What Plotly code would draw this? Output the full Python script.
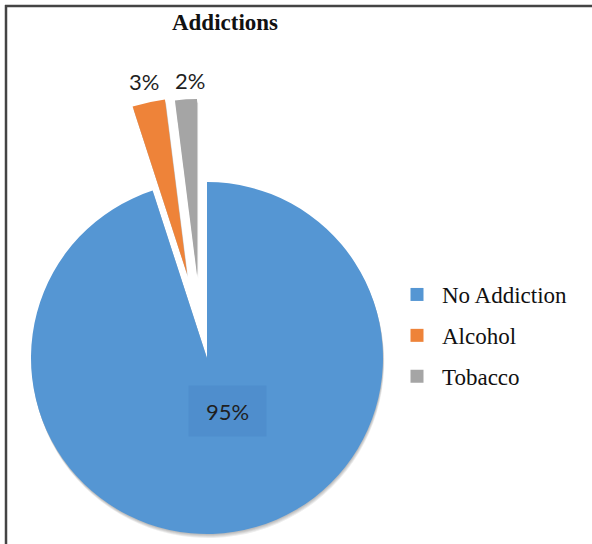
import plotly.graph_objects as go

# ---- data -------------------------------------------------------------
categories = ["No Addiction", "Alcohol", "Tobacco"]
values = [95, 3, 2]
colors = ["#5596d3", "#ee8339", "#a5a5a5"]

W, H = 592, 544
R = 176                      # pie radius in px
main_center = (207, 358)     # centre of the un-exploded slice
exploded_centers = {         # apex of each exploded slice
    "Alcohol": (187, 274),
    "Tobacco": (197, 275),
}
slice_centers = {"No Addiction": main_center, **exploded_centers}

total = sum(values)
pct = [v / total * 100 for v in values]


def domain_for(cx, cy, r=R):
    return dict(
        x=[(cx - r) / W, (cx + r) / W],
        y=[1 - (cy + r) / H, 1 - (cy - r) / H],
    )


def slice_colors(keep, color=None):
    return [(color or c) if lab in keep else "rgba(0,0,0,0)"
            for lab, c in zip(categories, colors)]


def pie(keep, center, color=None):
    return go.Pie(
        labels=categories, values=values, sort=False, direction="clockwise", rotation=0,
        marker=dict(colors=slice_colors(keep, color), line=dict(width=0)),
        textinfo="none", hoverinfo="skip" if color else "label+percent",
        showlegend=False, domain=domain_for(*center),
    )


fig = go.Figure()

# soft drop shadow: a few faint copies shifted downward
for k in (4, 3, 2, 1):
    for lab, (cx, cy) in slice_centers.items():
        fig.add_trace(pie({lab}, (cx + k * 0.3, cy + k), color="rgba(0,0,0,0.07)"))

# each slice drawn from its own apex
for lab, center in slice_centers.items():
    fig.add_trace(pie({lab}, center))

# legend entries
for lab, c in zip(categories, colors):
    fig.add_trace(go.Scatter(
        x=[None], y=[None], mode="markers", name=lab, legendgroup=lab,
        marker=dict(symbol="square", size=13, color=c),
    ))

# percentage labels
label_pos = {"No Addiction": (227, 411), "Alcohol": (144, 81), "Tobacco": (190, 80)}
annotations = []
for lab, p in zip(categories, pct):
    x, y = label_pos[lab]
    ann = dict(
        text=f"{p:.0f}%", x=x / W, y=1 - y / H, xref="paper", yref="paper",
        xanchor="center", yanchor="middle", showarrow=False,
        font=dict(family="Lato", size=22, color="#1f1f1f"),
    )
    if lab == "No Addiction":
        ann.update(bgcolor="#4f8ecd", width=75, height=48)
    annotations.append(ann)

fig.update_layout(
    width=W, height=H,
    margin=dict(l=0, r=0, t=0, b=0),
    paper_bgcolor="white", plot_bgcolor="white",
    title=dict(
        text="<b>Addictions</b>", x=225 / W, xanchor="center",
        y=1 - 22 / H, yanchor="middle", yref="container",
        font=dict(family="Liberation Serif", size=23, color="#111111"),
    ),
    xaxis=dict(visible=False), yaxis=dict(visible=False),
    legend=dict(
        x=392 / W, xanchor="left", y=1 - 273 / H, yanchor="top",
        font=dict(family="Liberation Serif", size=23, color="#111111"),
        itemwidth=40, tracegroupgap=8, bgcolor="rgba(0,0,0,0)",
    ),
    annotations=annotations,
    shapes=[
        dict(type="line", xref="paper", yref="paper", x0=5 / W, x1=1, y0=1 - 6 / H, y1=1 - 6 / H,
             line=dict(color="#444444", width=2.5)),
        dict(type="line", xref="paper", yref="paper", x0=6 / W, x1=6 / W, y0=0, y1=1 - 5 / H,
             line=dict(color="#444444", width=2.5)),
    ],
)

fig.write_html("out.html")
